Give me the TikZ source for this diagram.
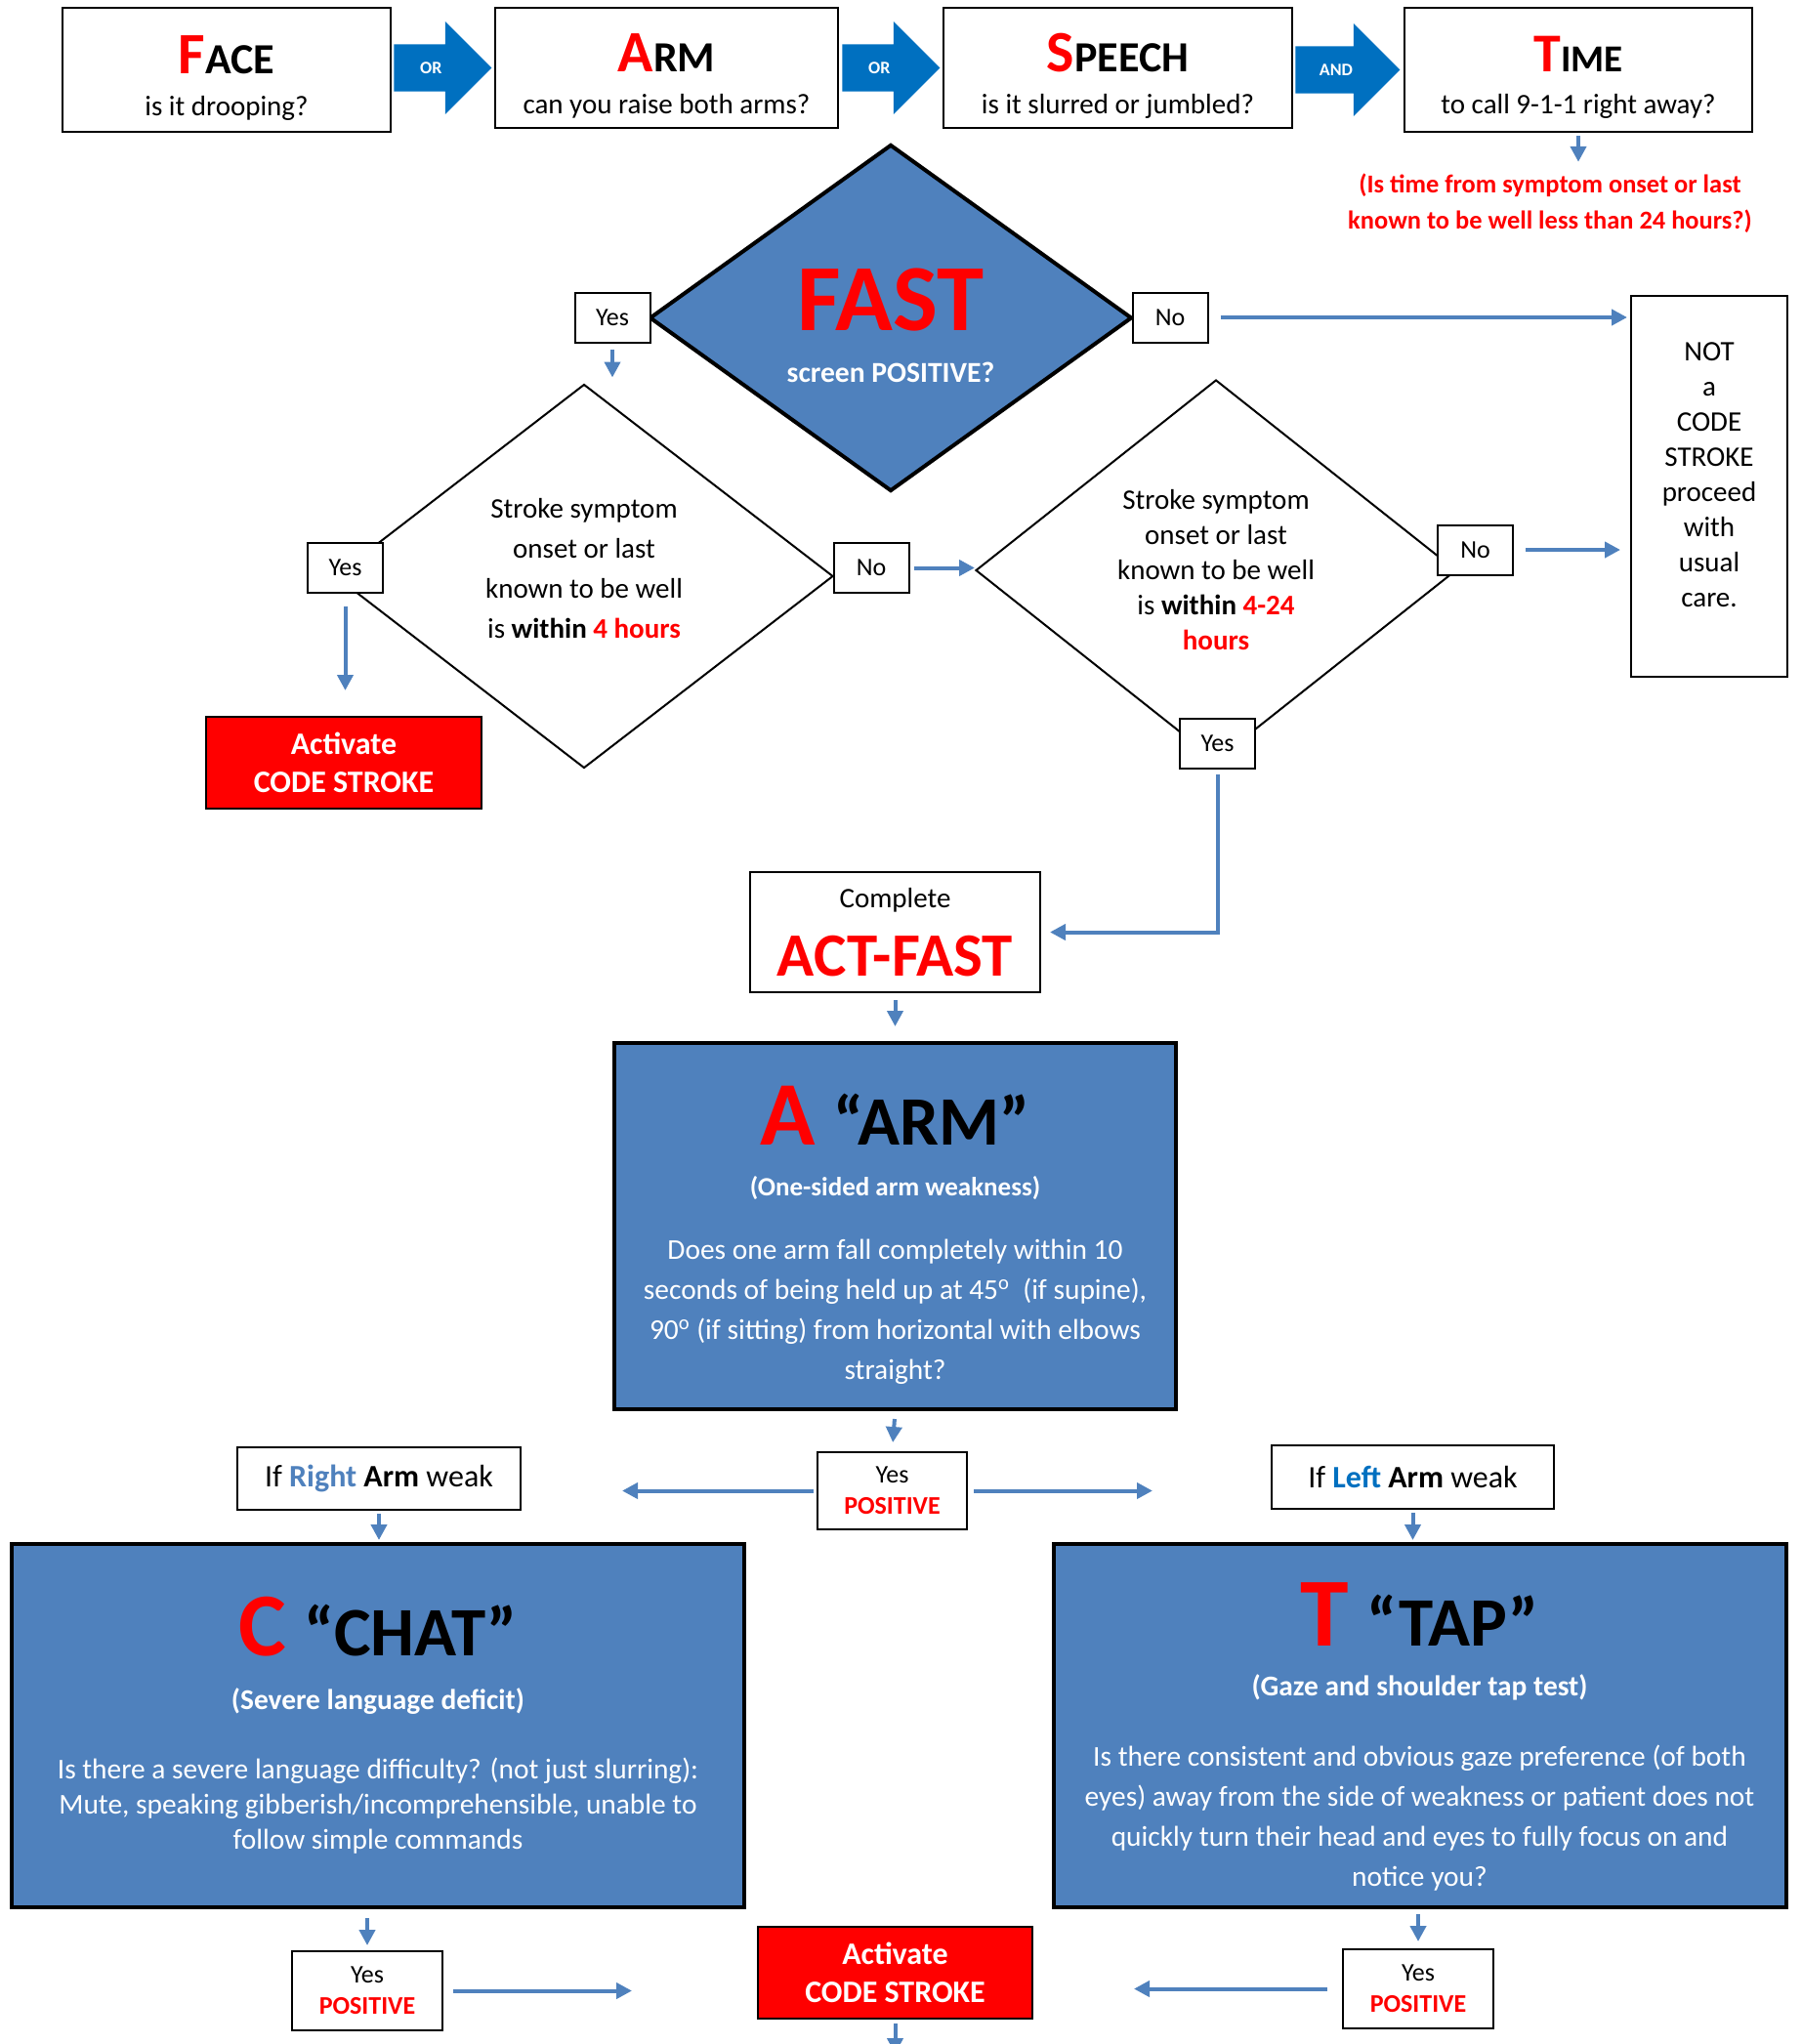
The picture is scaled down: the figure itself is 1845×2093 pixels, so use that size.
\documentclass[tikz,border=0pt]{standalone}
\usepackage{fontspec}
\setmainfont{Carlito}
\usetikzlibrary{shapes,arrows.meta}
\usetikzlibrary{positioning,calc}
\definecolor{TestCol}{HTML}{4F81BD}
\definecolor{LinkCol}{HTML}{4F81BD}
\definecolor{BlockCol}{HTML}{0070C0}
\definecolor{AlertCol}{HTML}{FF0000}
\newcommand{\capword}[2]{{\fontsize{30}{30}\selectfont\bfseries\color{AlertCol}#1}{\fontsize{22}{22}\selectfont\bfseries #2}}
\newcommand{\bigtitle}[3]{{\fontsize{#3}{#3}\selectfont\bfseries\color{AlertCol}#1}\hspace{9pt}{\fontsize{35.5}{35.5}\selectfont\bfseries\color{black}#2}}
% struts to move a text block up or down inside its box
\newcommand{\headroom}[1]{\rule{0pt}{#1}}
\newcommand{\footroom}[1]{\rule[-#1]{0pt}{0pt}}
\tikzset{
  plain box/.style={
    shape = rectangle,
    draw,
    line width=1pt,
    fill=white,
    align=center,
    inner sep=0pt,
    },
  question box/.style={
    plain box,
    font=\fontsize{14.5}{21.5}\selectfont,
    },
  test box/.style={
    plain box,
    line width=2pt,
    fill=TestCol,
    text=white,
    minimum width=375pt,
    minimum height=186pt,
    },
  alert box/.style={
    plain box,
    fill=AlertCol,
    text=white,
    font=\bfseries\fontsize{16}{19.5}\selectfont,
    minimum width=141pt,
    minimum height=47pt,
    },
  answer box/.style={
    plain box,
    font=\fontsize{13}{16}\selectfont,
    minimum width=38.5pt,
    minimum height=25.5pt,
    },
  test diamond/.style={
    shape=diamond,
    draw,
    line width=1pt,
    align=center,
    inner sep=0pt,
    },
  block arrow/.style={
    single arrow,
    anchor=tip,
    fill=BlockCol,
    text=white,
    font=\bfseries\fontsize{9}{10}\selectfont,
    minimum width=47pt,
    single arrow head extend=11.75pt,
    inner xsep=1pt,
    inner ysep=8.9pt,
    },
}
\tikzstyle{LinkA} = [-{Triangle[length=8pt,width=8pt]},LinkCol,line width=2pt]

\begin{document}
\begin{tikzpicture}[x=0.5pt,y=-0.5pt]
\useasboundingbox (0,0) rectangle (1845,2093);

    % FAST questions

    \node[question box,minimum width=168pt,minimum height=63.5pt] (face) at (232,71.5)
        {\headroom{27.5pt}\capword{F}{ACE}\\is it drooping?};
    \node[question box,minimum width=175.5pt,minimum height=61.5pt] (armq) at (682.5,69.5)
        {\headroom{27.5pt}\capword{A}{RM}\\can you raise both arms?};
    \node[question box,minimum width=178.5pt,minimum height=61.5pt] (speech) at (1144.5,69.5)
        {\headroom{27.5pt}\capword{S}{PEECH}\\is it slurred or jumbled?};
    \node[question box,minimum width=178pt,minimum height=63.5pt] (time) at (1616,71.5)
        {\headroom{26pt}{\fontsize{28}{28}\selectfont\bfseries\color{AlertCol}T}{\fontsize{19.5}{19.5}\selectfont\bfseries IME}\\to call 9-1-1 right away?};

    \node[block arrow,minimum height=50pt] (orA) at ($(armq.west)+(-2,0)$) {OR};
    \node[block arrow,minimum height=50pt] (orB) at ($(speech.west)+(-2,0)$) {OR};
    \node[block arrow,minimum height=53.5pt] (andC) at ($(time.west)+(-3,0)$) {AND};

    \node[AlertCol,font=\bfseries\fontsize{13.2}{18.5}\selectfont,align=center,inner sep=0pt]
        (timenote) at (1587,208.5)
        {(Is time from symptom onset or last\\known to be well less than 24 hours?)};

    % Decisions

    \node[test diamond,line width=2pt,fill=TestCol,minimum width=247pt,minimum height=177.5pt,
        font=\bfseries\fontsize{14.8}{26.5}\selectfont,text=white] (fast) at (912,325.5)
        {\headroom{40pt}{\fontsize{48.5}{48.5}\selectfont\color{AlertCol}FAST}\\screen POSITIVE?};

    \node[test diamond,minimum width=255pt,minimum height=196.5pt,
        font=\fontsize{14.5}{20.5}\selectfont] (d4) at (598,590)
        {Stroke symptom\\onset or last\\known to be well\\is \textbf{within} \textbf{\color{AlertCol}4 hours}\footroom{8pt}};

    \node[test diamond,minimum width=246pt,minimum height=195pt,
        font=\fontsize{14.5}{18}\selectfont] (d24) at (1245,584)
        {Stroke symptom\\onset or last\\known to be well\\is \textbf{within} \textbf{\color{AlertCol}4-24}\\\textbf{\color{AlertCol}hours}};

    \node[answer box] (fastyes) at (627,325) {Yes};
    \node[answer box] (fastno) at (1198,325) {No};
    \node[answer box] (yes4) at (353.5,581) {Yes};
    \node[answer box] (no4) at (892,581.5) {No};
    \node[answer box] (no24) at (1510.5,563) {No};
    \node[answer box] (yes24) at (1246.5,761) {Yes};

    \node[plain box,minimum width=80pt,minimum height=195pt,font=\fontsize{14.5}{18}\selectfont]
        (notbox) at (1750,498)
        {NOT\\a\\CODE\\STROKE\\proceed\\with\\usual\\care.\footroom{12pt}};

    \node[alert box] (act4) at (352,781) {Activate\\CODE STROKE};

    % ACT-FAST

    \node[plain box,minimum width=148.5pt,minimum height=61.5pt,font=\fontsize{14.5}{35}\selectfont]
        (actfast) at (916.5,954.5)
        {Complete\\{\fontsize{31.5}{31.5}\selectfont\bfseries\color{AlertCol}ACT-FAST}};

    \node[test box,minimum width=287.5pt,minimum height=187.5pt,font=\fontsize{14.7}{20.5}\selectfont]
        (armtest) at (916.5,1255.5)
        {\headroom{39.5pt}\bigtitle{A}{“ARM”}{46.5}\\[5.5pt]
         \textbf{\fontsize{13.5}{20.5}\selectfont (One-sided arm weakness)}\\[12pt]
         Does one arm fall completely within 10\\
         seconds of being held up at 45\textsuperscript{o}~ (if supine),\\
         90\textsuperscript{o} (if sitting) from horizontal with elbows\\
         straight?};

    \node[answer box,minimum width=76.5pt,minimum height=39.5pt] (yesA) at (913.5,1526.5)
        {Yes\\\textbf{\color{AlertCol}POSITIVE}};

    \node[plain box,minimum width=145pt,minimum height=32pt,font=\fontsize{16}{19}\selectfont]
        (rightarm) at (388,1514) {If \textbf{\color{TestCol}Right} \textbf{Arm} weak};
    \node[plain box,minimum width=144.5pt,minimum height=32.5pt,font=\fontsize{16}{19}\selectfont]
        (leftarm) at (1446.5,1512.5) {If \textbf{\color{BlockCol}Left} \textbf{Arm} weak};

    \node[test box,font=\fontsize{14.7}{18}\selectfont] (chat) at (387,1767)
        {\bigtitle{C}{“CHAT”}{46}\\[9.5pt]
         \textbf{\fontsize{14.7}{18}\selectfont (Severe language deficit)}\\[17.5pt]
         Is there a severe language difficulty? (not just slurring):\\
         Mute, speaking gibberish/incomprehensible, unable to\\
         follow simple commands};

    \node[test box,font=\fontsize{14.7}{20.5}\selectfont] (tap) at (1453.5,1767)
        {\headroom{43.5pt}\bigtitle{T}{“TAP”}{50}\\[5pt]
         \textbf{\fontsize{14.7}{20.5}\selectfont (Gaze and shoulder tap test)}\\[15.5pt]
         Is there consistent and obvious gaze preference (of both\\
         eyes) away from the side of weakness or patient does not\\
         quickly turn their head and eyes to fully focus on and\\
         notice you?};

    \node[answer box,minimum width=77pt,minimum height=40.5pt] (yesC) at (376,2038.5)
        {Yes\\\textbf{\color{AlertCol}POSITIVE}};
    \node[answer box,minimum width=77pt,minimum height=40.5pt] (yesT) at (1452,2036.5)
        {Yes\\\textbf{\color{AlertCol}POSITIVE}};

    \node[alert box,minimum width=140.5pt] (actB) at (916.5,2020) {Activate\\CODE STROKE};

    \coordinate (yesAL) at (637,1526.5);
    \coordinate (yesAR) at (1180,1526.5);
    \coordinate (yesCR) at (647,2038.5);
    \coordinate (yesTL) at (1161,2036.5);
    \coordinate (actBD) at (916.5,2103);

    % Links

    \draw[LinkA,shorten <=1.5pt,shorten >=6pt] (time.south) -- (time.south |- timenote.north);
    \draw[LinkA,shorten <=3pt,shorten >=3pt] (fastyes.south) -- (fastyes.south |- d4.north);
    \draw[LinkA,shorten <=6pt,shorten >=1.5pt] (fastno.east) -- (fastno.east -| notbox.west);
    \draw[LinkA,shorten <=6.5pt,shorten >=13pt] (yes4.south) -- (yes4.south |- act4.north);
    \draw[LinkA,shorten <=2pt] (no4.east) -- (no4.east -| d24.west);
    \draw[LinkA,shorten <=6pt,shorten >=5pt] (no24.east) -- (no24.east -| notbox.west);
    \draw[LinkA,shorten <=2.5pt,shorten >=4.5pt] (yes24.south) |- (actfast.east);

    \draw[LinkA,shorten <=3.5pt,shorten >=7.5pt] (actfast.south) -- (armtest.north);
    \draw[LinkA,shorten <=4pt,shorten >=4.5pt] (armtest.south) -- (yesA.north);
    \draw[LinkA,shorten <=1.5pt] (yesA.west) -- (yesAL);
    \draw[LinkA,shorten <=3pt] (yesA.east) -- (yesAR);
    \draw[LinkA,shorten <=1.5pt,shorten >=1pt] (rightarm.south) -- (rightarm.south |- chat.north);
    \draw[LinkA,shorten <=1.5pt,shorten >=1pt] (leftarm.south) -- (leftarm.south |- tap.north);
    \draw[LinkA,shorten <=4.5pt,shorten >=2.5pt] (yesC.north |- chat.south) -- (yesC.north);
    \draw[LinkA,shorten <=2.5pt,shorten >=3.5pt] (yesT.north |- tap.south) -- (yesT.north);
    \draw[LinkA,shorten <=5pt] (yesC.east) -- (yesCR);
    \draw[LinkA,shorten <=7.5pt] (yesT.west) -- (yesTL);
    \draw[LinkA,shorten <=2pt] (actB.south) -- (actBD);

\end{tikzpicture}
\end{document}
